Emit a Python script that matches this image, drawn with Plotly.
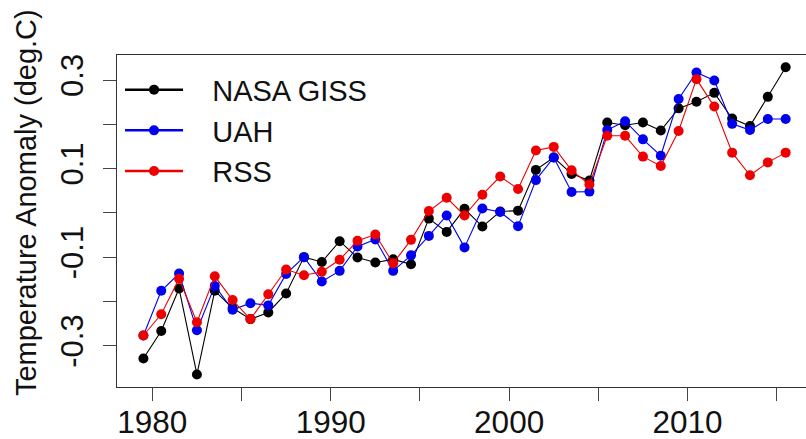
import plotly.graph_objects as go

# Annual temperature anomalies (deg.C), 1979-2015
years = list(range(1979, 2016))

nasa_giss = [-0.329, -0.267, -0.171, -0.365, -0.176, -0.215, -0.240, -0.225, -0.182, -0.100,
             -0.111, -0.064, -0.101, -0.112, -0.105, -0.116, -0.013, -0.043, 0.009, -0.031,
             0.003, 0.005, 0.097, 0.125, 0.088, 0.073, 0.204, 0.198, 0.204, 0.186,
             0.236, 0.251, 0.271, 0.213, 0.196, 0.262, 0.329]

uah = [-0.277, -0.176, -0.137, -0.265, -0.165, -0.219, -0.204, -0.209, -0.138, -0.100,
       -0.155, -0.131, -0.076, -0.060, -0.131, -0.096, -0.052, -0.006, -0.078, 0.010,
       0.002, -0.030, 0.074, 0.125, 0.047, 0.048, 0.187, 0.207, 0.166, 0.129,
       0.257, 0.317, 0.299, 0.201, 0.187, 0.212, 0.212]

rss = [-0.277, -0.229, -0.149, -0.247, -0.143, -0.197, -0.240, -0.184, -0.128, -0.141,
       -0.133, -0.106, -0.063, -0.049, -0.114, -0.061, 0.004, 0.034, -0.006, 0.041,
       0.082, 0.054, 0.141, 0.149, 0.096, 0.064, 0.174, 0.174, 0.127, 0.106,
       0.185, 0.302, 0.240, 0.136, 0.085, 0.114, 0.136]

series_names = ["NASA GISS", "UAH", "RSS"]
series_colors = ["#000000", "#0000ee", "#ee0000"]

x_tick_values = [1980, 1985, 1990, 1995, 2000, 2005, 2010, 2015]
x_tick_labels = ["1980", "", "1990", "", "2000", "", "2010", ""]
y_tick_values = [-0.3, -0.2, -0.1, 0.0, 0.1, 0.2, 0.3]
y_tick_labels = ["-0.3", "", "-0.1", "", "0.1", "", "0.3"]

# plot each year at its mid-point
x_mid = [y + 0.5 for y in years]

FONT = "Liberation Sans, Arial, sans-serif"
PAD = "\u00a0\u00a0\u00a0"  # gap between legend symbol and label

fig = go.Figure()
for name, color, values in zip(series_names, series_colors, [nasa_giss, uah, rss]):
    fig.add_trace(go.Scatter(
        x=x_mid, y=values, mode="lines+markers", name=name,
        line=dict(color=color, width=1.1),
        marker=dict(color=color, size=10, line=dict(width=0)),
        showlegend=False,
    ))
# legend entries with the heavier legend line
for name, color in zip(series_names, series_colors):
    fig.add_trace(go.Scatter(
        x=[None], y=[None], mode="lines+markers", name=PAD + name,
        line=dict(color=color, width=2.5),
        marker=dict(color=color, size=10),
    ))

fig.update_layout(
    width=806, height=439,
    margin=dict(l=117, r=0, t=55, b=52),
    paper_bgcolor="white", plot_bgcolor="white",
    font=dict(family=FONT, color="#111111", size=30),
    showlegend=True,
    legend=dict(
        x=0.0044, y=0.972, xanchor="left", yanchor="top",
        bgcolor="rgba(0,0,0,0)", borderwidth=0,
        font=dict(family=FONT, size=29, color="#111111"),
        itemwidth=58, tracegroupgap=0,
    ),
    xaxis=dict(
        range=[1978.02, 2016.64], automargin=False,
        tickmode="array", tickvals=x_tick_values, ticktext=x_tick_labels,
        ticklabelstandoff=-6,
        ticks="outside", ticklen=13, tickwidth=1, tickcolor="#444444",
        showline=True, mirror=True, linecolor="#333333", linewidth=1,
        showgrid=False, zeroline=False,
        tickfont=dict(family=FONT, size=31.5, color="#111111"),
    ),
    yaxis=dict(
        range=[-0.3933, 0.3565], automargin=False,
        tickmode="array", tickvals=y_tick_values, ticktext=y_tick_labels,
        tickangle=-90, ticklabelstandoff=8,
        ticks="outside", ticklen=13, tickwidth=1, tickcolor="#444444",
        showline=True, mirror=False, linecolor="#333333", linewidth=1,
        showgrid=False, zeroline=False,
        tickfont=dict(family=FONT, size=31, color="#111111"),
    ),
    annotations=[dict(
        text="Temperature Anomaly (deg.C)", textangle=-90,
        xref="paper", yref="paper", x=-0.132, y=0.554,
        xanchor="center", yanchor="middle", showarrow=False,
        font=dict(family=FONT, size=29, color="#111111"),
    )],
)

fig.write_html("out.html")
